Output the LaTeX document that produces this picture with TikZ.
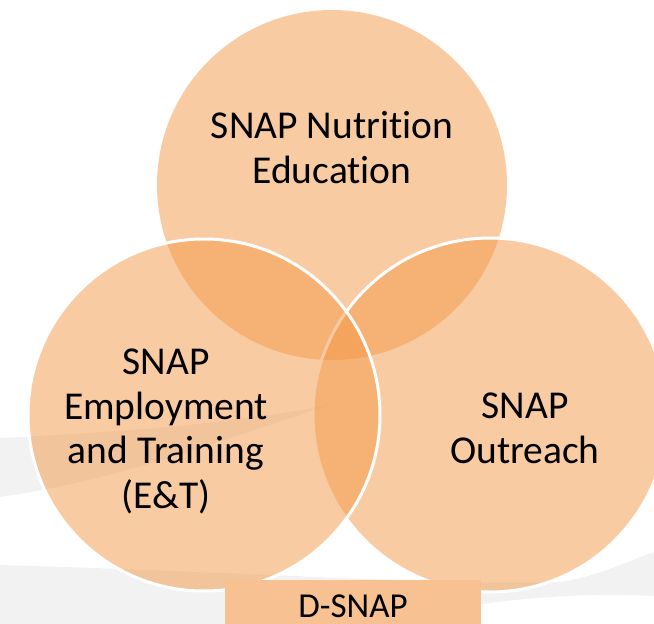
\documentclass[tikz,border=0pt]{standalone}
\usepackage{fontspec}
\setmainfont{Carlito}[Ligatures=NoCommon]
\definecolor{vennorange}{RGB}{243,151,71}
\definecolor{bandgray}{RGB}{242,242,242}
\definecolor{dsnapfill}{RGB}{248,193,146}
\begin{document}
\begin{tikzpicture}[x=1pt,y=-1pt,
  venn/.style={circle, fill=vennorange, fill opacity=0.5, draw=white, line width=3pt, inner sep=0pt},
  vlabel/.style={align=center, font=\fontsize{39.5}{44.5}\selectfont, text=black, anchor=base, inner sep=0pt},
  band/.style={fill=bandgray, draw=none},
  dbox/.style={fill=dsnapfill, draw=none, inner sep=0pt, anchor=north west, minimum width=256pt, minimum height=80pt}]
\useasboundingbox (0,0) rectangle (654,624);
\clip (0,0) rectangle (654,624);
% background swooshes
\fill[band] (0,438) .. controls (120,432) and (220,425) .. (330,405) .. controls (220,440) and (120,480) .. (0,497) -- cycle;
\fill[band] (0,565) .. controls (250,572) and (450,586) .. (560,582) .. controls (600,576) and (630,560) .. (654,552) -- (654,596) .. controls (560,592) and (450,600) .. (330,640) -- (0,640) -- cycle;
% circles
\node[venn, draw=none, minimum size=350pt] (top) at (332,185) {};
\node[venn, minimum size=354pt] (right) at (490,415) {};
\node[venn, minimum size=352pt] (left) at (204,415) {};
% labels
\node[vlabel] (toplabel) at (332,183) {SNAP Nutrition\\Education};
\node[vlabel] (leftlabel) at (166,508) {SNAP\\Employment\\and Training\\(E\&T)};
\node[vlabel] (rightlabel) at (525,463) {SNAP\\Outreach};
% D-SNAP box
\node[dbox] (dsnap) at (225,580) {};
\node[vlabel, font=\fontsize{35}{40}\selectfont] (dsnaplabel) at (353,617) {D-SNAP};
\end{tikzpicture}
\end{document}
